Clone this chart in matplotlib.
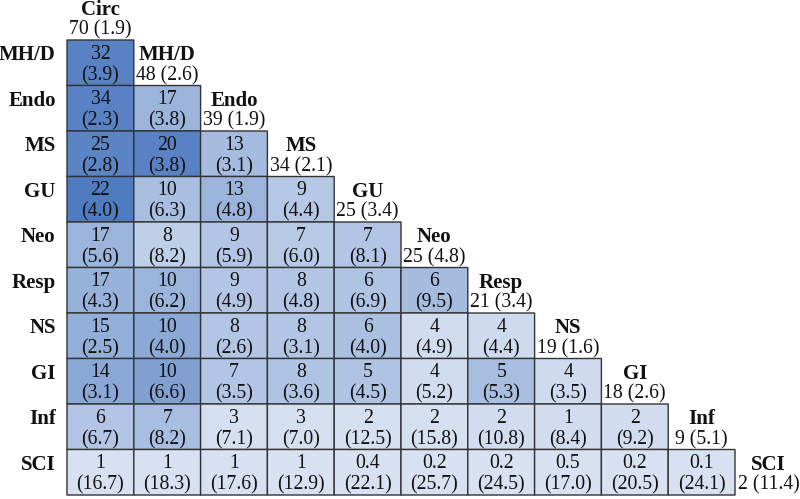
import numpy as np
import matplotlib
matplotlib.use("Agg")
import matplotlib.pyplot as plt
from matplotlib.colors import LinearSegmentedColormap

# Etiquetas de las categorías
labels = ["Circ", "MH/D", "Endo", "MS", "GU", "Neo", "Resp", "NS", "GI", "Inf", "SCI"]

# Diagonal: n y (IC)
diag_n = [70, 48, 39, 34, 25, 25, 21, 19, 18, 9, 2]
diag_ci = [1.9, 2.6, 1.9, 2.1, 3.4, 4.8, 3.4, 1.6, 2.6, 5.1, 11.4]

# Triángulo inferior: valor por fila (fila i tiene i celdas)
cell_val = [
    [32],
    [34, 17],
    [25, 20, 13],
    [22, 10, 13, 9],
    [17, 8, 9, 7, 7],
    [17, 10, 9, 8, 6, 6],
    [15, 10, 8, 8, 6, 4, 4],
    [14, 10, 7, 8, 5, 4, 5, 4],
    [6, 7, 3, 3, 2, 2, 2, 1, 2],
    [1, 1, 1, 1, 0.4, 0.2, 0.2, 0.5, 0.2, 0.1],
]
cell_ci = [
    [3.9],
    [2.3, 3.8],
    [2.8, 3.8, 3.1],
    [4.0, 6.3, 4.8, 4.4],
    [5.6, 8.2, 5.9, 6.0, 8.1],
    [4.3, 6.2, 4.9, 4.8, 6.9, 9.5],
    [2.5, 4.0, 2.6, 3.1, 4.0, 4.9, 4.4],
    [3.1, 6.6, 3.5, 3.6, 4.5, 5.2, 5.3, 3.5],
    [6.7, 8.2, 7.1, 7.0, 12.5, 15.8, 10.8, 8.4, 9.2],
    [16.7, 18.3, 17.6, 12.9, 22.1, 25.7, 24.5, 17.0, 20.5, 24.1],
]
# Intensidad del sombreado
cell_shade = [
    [0.88],
    [0.88, 0.45],
    [0.86, 0.88, 0.38],
    [0.94, 0.36, 0.45, 0.28],
    [0.45, 0.22, 0.30, 0.27, 0.30],
    [0.48, 0.45, 0.30, 0.30, 0.32, 0.38],
    [0.50, 0.55, 0.30, 0.30, 0.35, 0.10, 0.12],
    [0.56, 0.62, 0.30, 0.32, 0.32, 0.10, 0.36, 0.12],
    [0.30, 0.36, 0.08, 0.08, 0.08, 0.08, 0.10, 0.10, 0.10],
    [0.06, 0.06, 0.06, 0.06, 0.06, 0.06, 0.06, 0.06, 0.06, 0.06],
]

def fmt(v):
    return f"{v:.1f}" if v < 1 else f"{v:.0f}"

n = len(labels)
nrows = n - 1
shade = np.ma.masked_all((nrows, n - 1))
for i, row in enumerate(cell_shade):
    for j, s in enumerate(row):
        shade[i, j] = s

cmap = LinearSegmentedColormap.from_list("azul", ["#e0e8f4", "#4674bd"])

fig = plt.figure(figsize=(8, 4.99), dpi=100)
ax = fig.add_axes([0, 0, 1, 1])
ax.pcolor(np.arange(n), np.arange(nrows + 1), shade, cmap=cmap, vmin=0, vmax=1,
          edgecolors="#333333", linewidth=1.0)

tc = "#111111"
serif = "Liberation Serif"
fs = 14.2
fb = 15
y1, y2 = 0.31, 0.78

# Texto de las celdas
for i, row in enumerate(cell_val):
    for j, v in enumerate(row):
        ax.text(j + 0.5, i + y1, fmt(v), ha="center", va="center",
                fontsize=fs, family=serif, color=tc)
        ax.text(j + 0.5, i + y2, f"({cell_ci[i][j]:.1f})", ha="center", va="center",
                fontsize=fs, family=serif, color=tc)

# Cabeceras en la diagonal
for k in range(n):
    r = k - 1
    ax.text(k + 0.5, r + y1 + 0.02, labels[k], ha="center", va="center",
            fontsize=fb, family=serif, weight="bold", color=tc)
    ax.text(k + 0.5, r + y2, f"{diag_n[k]} ({diag_ci[k]:.1f})", ha="center", va="center",
            fontsize=fs, family=serif, color=tc)

# Etiquetas de filas
for i in range(nrows):
    ax.text(-0.17, i + y1 + 0.02, labels[i + 1], ha="right", va="center",
            fontsize=fb, family=serif, weight="bold", color=tc)

ax.set_xlim(-67 / 66.8, (800 - 67) / 66.8)
ax.set_ylim((499 - 40) / 45.5, -40 / 45.5)
ax.axis("off")

fig.savefig("out.png", dpi=100, facecolor="white")
